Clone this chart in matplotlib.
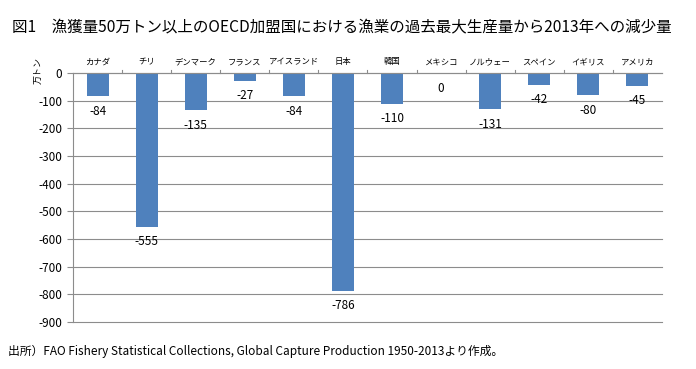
import matplotlib
matplotlib.use("Agg")
import matplotlib.pyplot as plt

plt.rcParams['font.family'] = ['Noto Sans CJK JP', 'DejaVu Sans']

countries = ["カナダ", "チリ", "デンマーク", "フランス", "アイスランド", "日本", "韓国",
             "メキシコ", "ノルウェー", "スペイン", "イギリス", "アメリカ"]
values = [-84, -555, -135, -27, -84, -786, -110, 0, -131, -42, -80, -45]
yticks = list(range(0, -1000, -100))

fig = plt.figure(figsize=(6.96, 3.69), dpi=100)
ax = fig.add_axes([0.105, 0.127, 0.846, 0.675])

x = list(range(len(countries)))
ax.bar(x, values, width=0.45, color="#4F81BD", zorder=3)
ax.set_xlim(-0.5, len(countries) - 0.5)
ax.set_ylim(-900, 0)
ax.set_yticks(yticks)
ax.set_yticklabels([str(v) for v in yticks], fontsize=8.5)
for t in yticks:
    ax.axhline(t, color="#8c8c8c", linewidth=0.8, zorder=1, clip_on=False)

for s in ["top", "right", "bottom"]:
    ax.spines[s].set_visible(False)
ax.spines["left"].set_color("#8c8c8c")
ax.tick_params(axis="y", length=4, color="#8c8c8c", pad=4)

ax.axhline(0, color="#8c8c8c", linewidth=0.8, zorder=4, clip_on=False)
ax.set_xticks([])
for i, c in enumerate(countries):
    ax.text(i, 40, c, ha="center", va="center", fontsize=6, clip_on=False)
for b in [i + 0.5 for i in range(len(countries) - 1)]:
    ax.plot([b, b], [0, 10], color="#8c8c8c", linewidth=0.8, clip_on=False)

for i, v in enumerate(values):
    ax.text(i, v - 54, str(v), ha="center", va="center", fontsize=8.5)

ax.text(-0.06, 1.01, "万トン", rotation=90, ha="center", va="center",
        fontsize=6.5, transform=ax.transAxes)

fig.text(0.017, 0.925, "図1　漁獲量50万トン以上のOECD加盟国における漁業の過去最大生産量から2013年への減少量",
         fontsize=11.2, ha="left", va="center")
fig.text(0.012, 0.047, "出所）FAO Fishery Statistical Collections, Global Capture Production 1950-2013より作成。",
         fontsize=8.5, ha="left", va="center")

fig.savefig("out.png", dpi=100)
